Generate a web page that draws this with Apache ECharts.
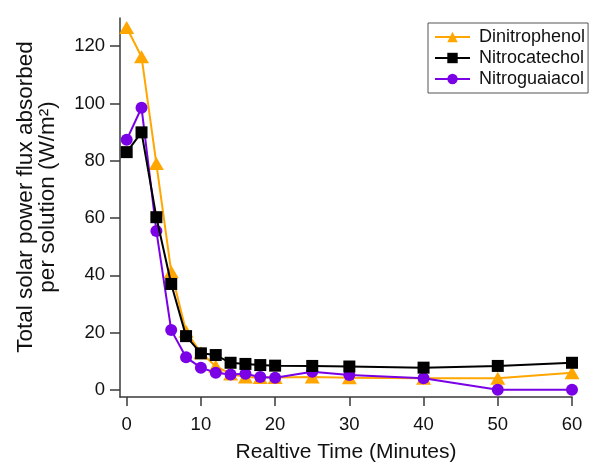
<!DOCTYPE html>
<html>
<head>
<meta charset="utf-8">
<script src="https://cdn.jsdelivr.net/npm/echarts@6/dist/echarts.min.js"></script>
<style>
  html, body { margin: 0; padding: 0; background: #fff; }
  #chart { width: 592px; height: 462px; }
</style>
</head>
<body>
<div id="chart"></div>
<script>
// Sampling times (minutes) shared by all three compounds
const times = [0, 2, 4, 6, 8, 10, 12, 14, 16, 18, 20, 25, 30, 40, 50, 60];

// Solar power flux absorbed per solution (W/m²)
const dinitrophenol = [126.5, 116.3, 79.0, 41.3, 20.5, 13.0, 8.3, 5.6, 4.5, 4.4, 4.4, 4.5, 4.3, 4.1, 4.1, 6.0];
const nitrocatechol = [83.0, 89.9, 60.3, 37.0, 18.8, 12.8, 12.2, 9.5, 9.1, 8.7, 8.5, 8.4, 8.2, 7.8, 8.4, 9.5];
const nitroguaiacol = [87.3, 98.5, 55.5, 20.9, 11.4, 7.8, 6.0, 5.4, 5.7, 4.5, 4.3, 6.4, 5.2, 4.1, 0.1, 0.1];

// Tick labels
const xTicks = [0, 10, 20, 30, 40, 50, 60];
const yTicks = [0, 20, 40, 60, 80, 100, 120];

const seriesNames = ['Dinitrophenol', 'Nitrocatechol', 'Nitroguaiacol'];

const FONT = '"Liberation Sans", Arial, sans-serif';
const AXIS_COLOR = '#3a3a3a';

function pairs(values) {
  return times.map((t, i) => [t, values[i]]);
}

const chart = echarts.init(document.getElementById('chart'), null, { renderer: 'canvas' });

const axisCommon = {
  type: 'value',
  splitLine: { show: false },
  axisLine: { show: true, onZero: false, lineStyle: { color: AXIS_COLOR, width: 1.5 } },
  axisTick: { show: true, inside: false, lineStyle: { color: AXIS_COLOR, width: 1.5 } },
  axisLabel: { color: '#111', fontFamily: FONT, fontSize: 18.5 }
};

chart.setOption({
  animation: false,
  backgroundColor: '#fff',
  grid: { left: 120, right: 20, top: 18, bottom: 65, containLabel: false, outerBoundsMode: 'none' },
  xAxis: Object.assign({}, axisCommon, {
    min: -0.9,
    max: 60,
    axisTick: Object.assign({}, axisCommon.axisTick, { length: 9, customValues: xTicks }),
    axisLabel: Object.assign({}, axisCommon.axisLabel, { margin: 18, customValues: xTicks }),
    name: 'Realtive Time (Minutes)',
    nameLocation: 'middle',
    nameGap: 45,
    nameTextStyle: { color: '#111', fontFamily: FONT, fontSize: 21 }
  }),
  yAxis: Object.assign({}, axisCommon, {
    min: -2.44,
    max: 129.8,
    axisTick: Object.assign({}, axisCommon.axisTick, { length: 10, customValues: yTicks }),
    axisLabel: Object.assign({}, axisCommon.axisLabel, { margin: 15, customValues: yTicks })
  }),
  graphic: [{
    type: 'text',
    x: 37,
    y: 197,
    rotation: Math.PI / 2,
    style: {
      text: 'Total solar power flux absorbed\nper solution (W/m²)',
      font: '22.5px ' + FONT,
      fill: '#111',
      align: 'center',
      verticalAlign: 'middle',
      textAlign: 'center',
      textVerticalAlign: 'middle',
      lineHeight: 22
    }
  }],
  legend: {
    data: seriesNames,
    orient: 'vertical',
    left: 428,
    top: 23,
    padding: [5, 3, 5, 6],
    itemGap: 3,
    itemWidth: 35,
    itemHeight: 13,
    borderColor: '#555',
    borderWidth: 1,
    textStyle: { color: '#111', fontFamily: FONT, fontSize: 18, lineHeight: 18, padding: [0, 0, 0, 4] }
  },
  series: [
    {
      name: 'Dinitrophenol',
      type: 'line',
      data: pairs(dinitrophenol),
      symbol: 'triangle',
      symbolSize: [15, 13],
      color: '#ffa600',
      lineStyle: { width: 2, color: '#ffa600' },
      itemStyle: { color: '#ffa600' },
      z: 2
    },
    {
      name: 'Nitroguaiacol',
      type: 'line',
      data: pairs(nitroguaiacol),
      symbol: 'circle',
      symbolSize: 12,
      color: '#7a00e6',
      lineStyle: { width: 2, color: '#7a00e6' },
      itemStyle: { color: '#7a00e6' },
      z: 3
    },
    {
      name: 'Nitrocatechol',
      type: 'line',
      data: pairs(nitrocatechol),
      symbol: 'rect',
      symbolSize: 12,
      color: '#000',
      lineStyle: { width: 2, color: '#000' },
      itemStyle: { color: '#000' },
      z: 4
    }
  ]
});
</script>
</body>
</html>
